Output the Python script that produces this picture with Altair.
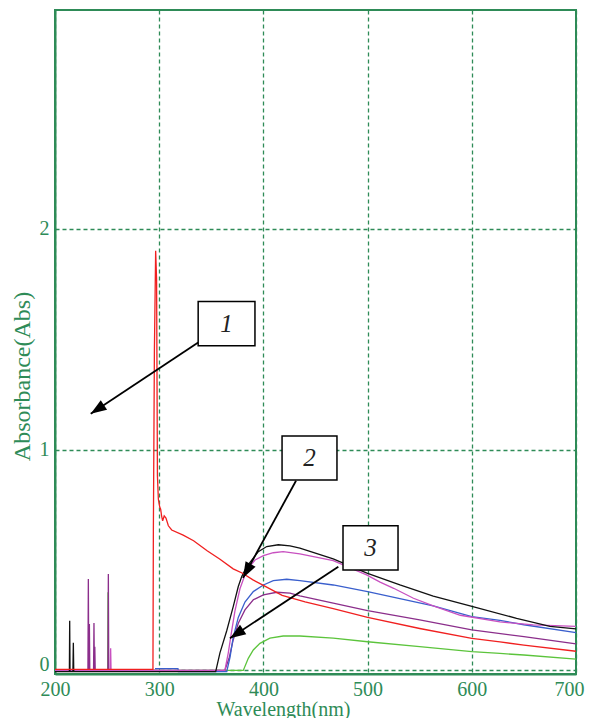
import math
import altair as alt
import pandas as pd

# ---------------- data ----------------
red_wl = [200, 294.0, 294.4, 295.4, 296.6, 297.5, 298.3, 299.2, 300.5, 301.4, 302.3, 303.3, 304.8,
          306.5, 308.8, 312, 323, 333, 346, 358, 371, 380, 390, 400, 418, 440, 467, 500, 550,
          600, 627, 650, 700]
red_abs = [0.005, 0.005, 0.63, 1.45, 1.9, 1.77, 0.88, 0.775, 0.74, 0.73, 0.70, 0.677, 0.70,
           0.69, 0.655, 0.636, 0.613, 0.587, 0.542, 0.505, 0.46, 0.44, 0.41, 0.385, 0.34, 0.31,
           0.28, 0.24, 0.19, 0.145, 0.129, 0.115, 0.087]

black_wl = [200, 213.8, 214.1, 214.4, 217.2, 217.6, 218.0, 300, 354.2, 358.3, 364.8, 371.1,
            375.9, 379.2, 384.0, 388.8, 395.1, 403.2, 414.3, 425.5, 435, 467, 500, 531, 563,
            601, 643, 675, 700]
black_abs = [-0.005, -0.005, 0.225, -0.005, -0.005, 0.125, -0.005, -0.005, -0.005, 0.08, 0.18,
             0.29, 0.38, 0.425, 0.47, 0.50, 0.538, 0.561, 0.569, 0.564, 0.554, 0.505, 0.44,
             0.387, 0.337, 0.289, 0.236, 0.20, 0.188]

magenta_wl = [200, 253.0, 253.4, 253.8, 300, 363.0, 366.3, 369.6, 372.7, 377.5, 384.0, 392.0,
              400, 409.5, 419.0, 435, 467, 499, 512, 525, 544, 563, 589, 627, 659, 700]
magenta_abs = [0, 0, 0.10, 0, 0, 0, 0.08, 0.18, 0.27, 0.37, 0.455, 0.50, 0.52, 0.533, 0.538,
               0.528, 0.497, 0.433, 0.40, 0.372, 0.327, 0.292, 0.25, 0.22, 0.206, 0.20]

blue_wl = [296, 318, 318.4, 364.8, 368, 371, 375.9, 382.3, 390.3, 400, 409.5, 422.4, 435, 467,
           500, 563, 600, 627, 650, 700]
blue_abs = [0.008, 0.008, -0.005, -0.005, 0.06, 0.15, 0.24, 0.31, 0.357, 0.387, 0.407, 0.413,
            0.407, 0.387, 0.357, 0.292, 0.244, 0.227, 0.207, 0.171]

purple_wl = [200, 231.6, 232.0, 232.4, 233.0, 233.4, 237.0, 237.4, 237.8, 238.2, 238.6, 250.8,
             251.2, 251.6, 300, 363.0, 367.3, 371.0, 375.9, 382.3, 390.3, 400, 412.8, 425.5,
             435, 467, 500, 550, 600, 650, 700]
purple_abs = [0, 0, 0.414, 0, 0.21, 0, 0, 0.215, 0, 0.107, 0, 0, 0.437, 0, 0, 0, 0.06, 0.138,
              0.214, 0.274, 0.32, 0.342, 0.354, 0.35, 0.338, 0.305, 0.271, 0.229, 0.184, 0.153,
              0.12]

green_wl = [200, 250.6, 250.9, 251.2, 300, 380.7, 385.5, 390.3, 396.7, 406.3, 419, 435, 467,
            500, 550, 600, 627, 650, 700]
green_abs = [0, 0, 0.354, 0, 0, 0, 0.055, 0.093, 0.123, 0.146, 0.156, 0.156, 0.146, 0.13, 0.108,
             0.085, 0.077, 0.07, 0.051]

series_names = ["green", "purple", "blue", "magenta", "black", "red"]
series_colors = ["#5cc43c", "#8b2e8b", "#3a5fcd", "#c850c0", "#111111", "#f02020"]

# annotation boxes (data units)
box_labels = ["1", "2", "3"]
box_x1 = [337.4, 417.9, 476.4]
box_x2 = [391.9, 470.6, 529.2]
box_y1 = [1.470, 0.862, 0.455]
box_y2 = [1.670, 1.061, 0.655]

# arrows: from box corner to tip
arrow_x0 = [337.4, 431.3, 471.9]
arrow_y0 = [1.485, 0.859, 0.470]
arrow_x1 = [234.3, 380.4, 367.9]
arrow_y1 = [1.162, 0.419, 0.146]

x_ticks = [200, 300, 400, 500, 600, 700]
y_ticks = [0, 1, 2]

# ---------------- build tables ----------------
W, H = 521, 664
X_DOM = [200, 700]
Y_DOM = [-0.016, 2.99]
G = "#2e8b57"
FONT = "Liberation Serif"

rows = []
series_data = {
    "red": (red_wl, red_abs), "black": (black_wl, black_abs),
    "magenta": (magenta_wl, magenta_abs), "blue": (blue_wl, blue_abs),
    "purple": (purple_wl, purple_abs), "green": (green_wl, green_abs),
}
for name in series_names:
    wl, ab = series_data[name]
    for i, (a, b) in enumerate(zip(wl, ab)):
        rows.append({"series": name, "wl": a, "abs": b, "idx": i})
df = pd.DataFrame(rows)

px_per_x = W / (X_DOM[1] - X_DOM[0])
px_per_y = H / (Y_DOM[1] - Y_DOM[0])
angles = []
for x0, y0, x1, y1 in zip(arrow_x0, arrow_y0, arrow_x1, arrow_y1):
    dx = (x1 - x0) * px_per_x
    dy = -(y1 - y0) * px_per_y
    angles.append(math.degrees(math.atan2(dx, -dy)) % 360)

arrows = pd.DataFrame({"x0": arrow_x0, "y0": arrow_y0, "x1": arrow_x1, "y1": arrow_y1,
                       "angle": angles})
boxes = pd.DataFrame({"x1": box_x1, "x2": box_x2, "y1": box_y1, "y2": box_y2,
                      "label": box_labels})
boxes["cx"] = (boxes["x1"] + boxes["x2"]) / 2
boxes["cy"] = (boxes["y1"] + boxes["y2"]) / 2

xscale = alt.Scale(domain=X_DOM, nice=False, zero=False)
yscale = alt.Scale(domain=Y_DOM, nice=False, zero=False)

x_axis = alt.Axis(values=x_ticks, format="d", title="Wavelength(nm)", grid=True, gridColor=G,
                  gridDash=[4, 3], gridWidth=1.3, ticks=False, domainColor=G, domainWidth=2,
                  labelFont=FONT, labelFontSize=20, labelColor=G, labelPadding=5,
                  labelFlush=False,
                  labelAlign={"condition": {"test": "datum.value == 700", "value": "right"},
                              "value": "center"},
                  labelOffset={"condition": {"test": "datum.value == 700", "value": 8},
                               "value": 0},
                  titleFont=FONT, titleFontSize=20, titleFontWeight="normal",
                  titleColor=G, titleX=228, titleY=25, titleBaseline="top",
                  titleAlign="center")
y_axis = alt.Axis(values=y_ticks, format="d", title="Absorbance(Abs)", grid=True, gridColor=G,
                  gridDash=[4, 3], gridWidth=1.3, ticks=False, domainColor=G, domainWidth=2,
                  labelFont=FONT, labelFontSize=20, labelColor=G, labelPadding=6,
                  labelBaseline={"condition": {"test": "datum.value == 0",
                                               "value": "alphabetic"},
                                 "value": "middle"},
                  titleFont=FONT, titleFontSize=24, titleFontWeight="normal", titleColor=G,
                  titleX=-33, titleY=366, titleAngle=270, titleBaseline="middle",
                  titleAlign="center")

lines = alt.Chart(df).mark_line(strokeWidth=1.3).encode(
    x=alt.X("wl:Q", scale=xscale, axis=x_axis),
    y=alt.Y("abs:Q", scale=yscale, axis=y_axis),
    color=alt.Color("series:N", scale=alt.Scale(domain=series_names, range=series_colors),
                    legend=None),
    detail="series:N",
    order=alt.Order("idx:Q"),
)

arrow_lines = alt.Chart(arrows).mark_rule(color="black", strokeWidth=1.8).encode(
    x=alt.X("x0:Q", scale=xscale), y=alt.Y("y0:Q", scale=yscale),
    x2="x1:Q", y2="y1:Q",
)
arrow_heads = alt.Chart(arrows).mark_point(
    shape="M0,0 L-0.36,1 L0.36,1 Z", filled=True, color="black", opacity=1, size=1000,
).encode(
    x=alt.X("x1:Q", scale=xscale), y=alt.Y("y1:Q", scale=yscale),
    angle=alt.Angle("angle:Q", scale=None),
)
box_rects = alt.Chart(boxes).mark_rect(fill="white", stroke="black", strokeWidth=1.5).encode(
    x=alt.X("x1:Q", scale=xscale), x2="x2:Q",
    y=alt.Y("y1:Q", scale=yscale), y2="y2:Q",
)
box_text = alt.Chart(boxes).mark_text(font=FONT, fontSize=25, fontStyle="italic",
                                      color="#222222", baseline="middle",
                                      align="center").encode(
    x=alt.X("cx:Q", scale=xscale), y=alt.Y("cy:Q", scale=yscale), text="label:N",
)

chart = alt.layer(lines, arrow_lines, arrow_heads, box_rects, box_text).properties(
    width=W, height=H,
    autosize=alt.AutoSizeParams(type="none"),
    padding={"left": 47, "top": 2, "right": 9, "bottom": 44},
    background="white",
).configure_view(stroke=G, strokeWidth=2)

chart.save("out.html", embed_options={"renderer": "svg", "actions": False})
